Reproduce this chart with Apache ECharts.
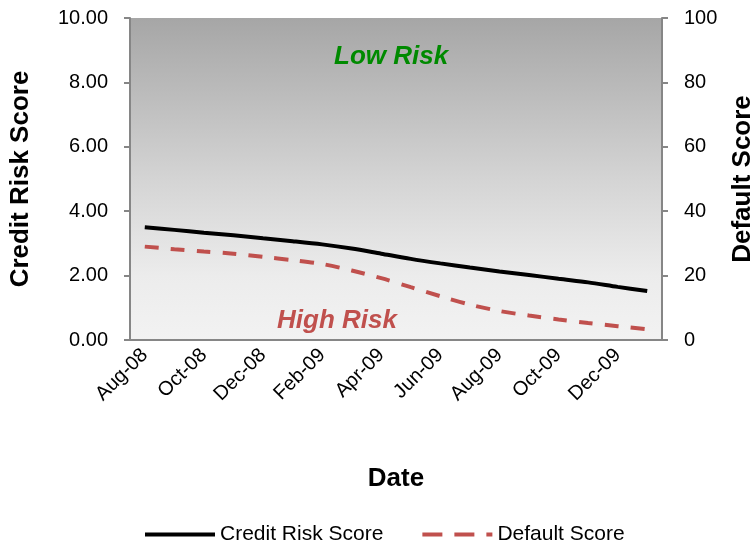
<!DOCTYPE html>
<html>
<head>
<meta charset="utf-8">
<script src="https://cdn.jsdelivr.net/npm/echarts@6/dist/echarts.min.js"></script>
<style>
  html, body { margin: 0; padding: 0; background: #fff; }
  #chart { width: 753px; height: 543px; }
</style>
</head>
<body>
<div id="chart"></div>
<script>
// monthly points, Aug-08 .. Jan-10
var months = ['Aug-08', 'Sep-08', 'Oct-08', 'Nov-08', 'Dec-08', 'Jan-09', 'Feb-09', 'Mar-09', 'Apr-09',
  'May-09', 'Jun-09', 'Jul-09', 'Aug-09', 'Sep-09', 'Oct-09', 'Nov-09', 'Dec-09', 'Jan-10'];
var creditRisk = [3.50, 3.42, 3.33, 3.25, 3.16, 3.07, 2.97, 2.84, 2.68, 2.52, 2.38, 2.25, 2.13, 2.02, 1.90, 1.79, 1.65, 1.52];
var defaultScore = [29.0, 28.2, 27.5, 26.8, 25.8, 24.8, 23.6, 21.6, 19.2, 16.4, 13.6, 11.0, 9.0, 7.6, 6.4, 5.3, 4.3, 3.3];

var FONT = 'Liberation Sans, Arial, sans-serif';
var axisGray = '#868686';

var chart = echarts.init(document.getElementById('chart'));

var option = {
  animation: false,
  textStyle: { fontFamily: FONT },
  grid: {
    left: 130, right: 91, top: 18, bottom: 203,
    outerBoundsMode: 'none',
    containLabel: false,
    show: true,
    borderWidth: 0,
    backgroundColor: new echarts.graphic.LinearGradient(0, 0, 0, 1, [
      { offset: 0, color: '#a6a6a6' },
      { offset: 0.5, color: '#d4d4d4' },
      { offset: 0.8, color: '#ececec' },
      { offset: 1, color: '#f2f2f2' }
    ])
  },
  legend: {
    top: 519,
    left: 140,
    itemWidth: 70,
    itemHeight: 4,
    itemGap: 39,
    textStyle: { fontSize: 21, color: '#000', fontFamily: FONT },
    data: [
      { name: 'Credit Risk Score', icon: 'path://M0,0H70V4H0Z' },
      { name: 'Default Score', icon: 'path://M0,0H20V4H0Z M32,0H52V4H32Z M64,0H70V4H64Z' }
    ]
  },
  graphic: [
    {
      type: 'text', left: 334, top: 44,
      style: { text: 'Low Risk', fill: '#008a00', font: 'italic bold 26px ' + FONT }
    },
    {
      type: 'text', left: 277, top: 308,
      style: { text: 'High Risk', fill: '#c0504d', font: 'italic bold 26px ' + FONT }
    }
  ],
  xAxis: {
    type: 'category',
    data: months,
    boundaryGap: true,
    name: 'Date',
    nameLocation: 'middle',
    nameGap: 126,
    nameTextStyle: { fontSize: 26, fontWeight: 'bold', color: '#000' },
    axisLine: { lineStyle: { color: axisGray, width: 2 } },
    axisTick: { interval: 1, length: 6, lineStyle: { color: axisGray, width: 2 } },
    axisLabel: { interval: 1, rotate: 45, fontSize: 20, color: '#000', margin: 12 },
    splitLine: { show: false }
  },
  yAxis: [
    {
      type: 'value', min: 0, max: 10, interval: 2,
      name: 'Credit Risk Score',
      nameLocation: 'middle',
      nameGap: 96,
      nameTextStyle: { fontSize: 26, fontWeight: 'bold', color: '#000' },
      axisLine: { show: true, lineStyle: { color: axisGray, width: 2 } },
      axisTick: { show: true, length: 6, lineStyle: { color: axisGray, width: 2 } },
      axisLabel: { fontSize: 20, color: '#000', margin: 22, formatter: function (v) { return v.toFixed(2); } },
      splitLine: { show: false }
    },
    {
      type: 'value', min: 0, max: 100, interval: 20,
      name: 'Default Score',
      nameLocation: 'middle',
      nameGap: 68,
      nameRotate: 90,
      nameTextStyle: { fontSize: 26, fontWeight: 'bold', color: '#000' },
      axisLine: { show: true, lineStyle: { color: axisGray, width: 2 } },
      axisTick: { show: true, length: 6, lineStyle: { color: axisGray, width: 2 } },
      axisLabel: { fontSize: 20, color: '#000', margin: 22 },
      splitLine: { show: false }
    }
  ],
  series: [
    {
      name: 'Credit Risk Score',
      type: 'line',
      yAxisIndex: 0,
      data: creditRisk,
      smooth: 0.3,
      symbol: 'none',
      itemStyle: { color: '#000' },
      lineStyle: { color: '#000', width: 4 }
    },
    {
      name: 'Default Score',
      type: 'line',
      yAxisIndex: 1,
      data: defaultScore,
      smooth: 0.3,
      symbol: 'none',
      itemStyle: { color: '#c0504d' },
      lineStyle: { color: '#c0504d', width: 4, type: [14, 12] }
    }
  ]
};

chart.setOption(option);
</script>
</body>
</html>
